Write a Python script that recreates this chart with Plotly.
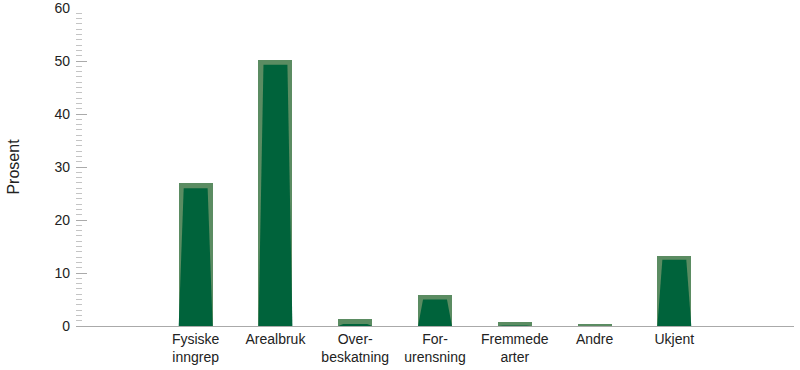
import plotly.graph_objects as go

categories = ["Fysiske<br>inngrep", "Arealbruk", "Over-<br>beskatning", "For-<br>urensning",
              "Fremmede<br>arter", "Andre", "Ukjent"]
outer_values = [27.0, 50.2, 1.4, 5.9, 0.7, 0.3, 13.3]
inner_values = [26.0, 49.3, 0.4, 5.0, 0.1, 0.0, 12.5]
positions = [1, 2, 3, 4, 5, 6, 7]
y_ticks = [0, 10, 20, 30, 40, 50, 60]

OUTER = "#5b8c62"
INNER = "#00633b"
bar_w = 0.425
top_w = 0.30

fig = go.Figure()
fig.add_trace(go.Bar(x=positions, y=outer_values, width=bar_w,
                     marker=dict(color=OUTER, line=dict(width=0)),
                     showlegend=False, hoverinfo="skip"))
for p, v in zip(positions, inner_values):
    if v <= 0:
        continue
    fig.add_trace(go.Scatter(
        x=[p - bar_w / 2, p - top_w / 2, p + top_w / 2, p + bar_w / 2, p - bar_w / 2],
        y=[0, v, v, 0, 0],
        mode="lines", fill="toself", fillcolor=INNER,
        line=dict(width=0, color=INNER), showlegend=False, hoverinfo="skip"))

fig.update_layout(
    width=800, height=370,
    margin=dict(l=76, r=6, t=8, b=44, autoexpand=False),
    paper_bgcolor="white", plot_bgcolor="white",
    font=dict(family="Liberation Sans, Arial, sans-serif", size=14, color="#222222"),
    bargap=0,
)
fig.update_xaxes(range=[-0.5, 8.5], tickvals=positions, ticktext=categories,
                 showline=True, linecolor="#aaaaaa", linewidth=1.3,
                 ticks="", showgrid=False, zeroline=False, automargin=False,
                 tickfont=dict(size=14, color="#222222"))
fig.update_yaxes(range=[0, 60], tickvals=y_ticks, ticks="inside", ticklen=11,
                 tickcolor="#aaaaaa", tickwidth=1,
                 minor=dict(dtick=1, ticks="inside", ticklen=6, tickcolor="#c4c4c4", tickwidth=1),
                 showline=False, showgrid=False, zeroline=False, automargin=False,
                 ticklabelstandoff=5, ticklabeloverflow="allow",
                 tickfont=dict(size=14, color="#222222"),
                 title=dict(text="Prosent", font=dict(size=16, color="#222222"), standoff=30))

fig.write_html("out.html")
